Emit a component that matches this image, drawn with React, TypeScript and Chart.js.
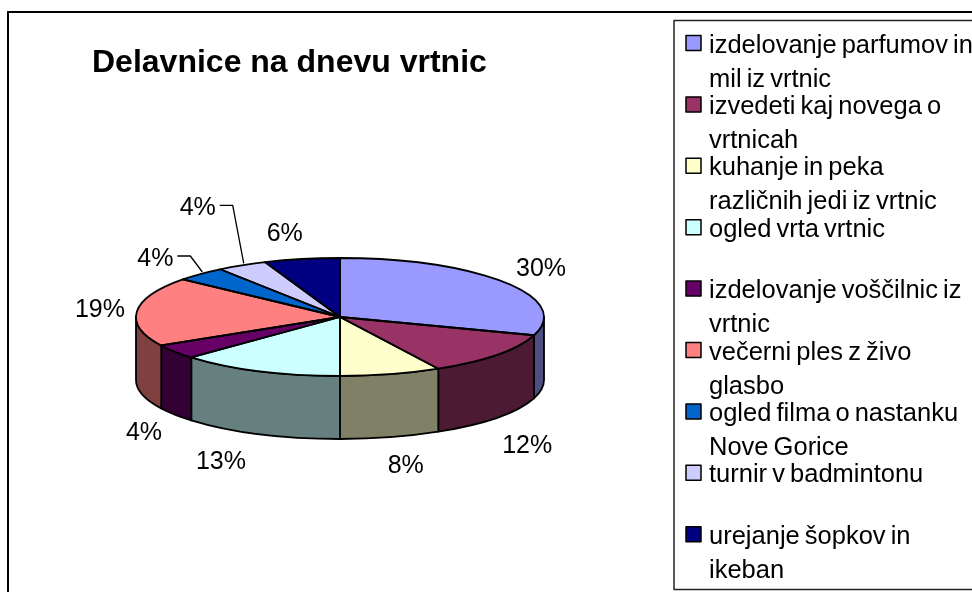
import React, { useEffect, useRef } from "react";
import { Chart, registerables } from "chart.js";

Chart.register(...registerables);

const titleText = "Delavnice na dnevu vrtnic";
const categories = [
  ["izdelovanje parfumov in", "mil iz vrtnic"],
  ["izvedeti kaj novega o", "vrtnicah"],
  ["kuhanje in peka", "različnih jedi iz vrtnic"],
  ["ogled vrta vrtnic"],
  ["izdelovanje voščilnic iz", "vrtnic"],
  ["večerni ples z živo", "glasbo"],
  ["ogled filma o nastanku", "Nove Gorice"],
  ["turnir v badmintonu"],
  ["urejanje šopkov in", "ikeban"],
];
const shares = [30, 12, 8, 13, 4, 19, 4, 4, 6];
const sliceColors = ["#9999FF", "#993366", "#FFFFCC", "#CCFFFF", "#660066", "#FF8080", "#0066CC", "#CCCCFF", "#000080"];
const wallColors = ["#4D4D80", "#4D1A33", "#808066", "#668080", "#330033", "#804040", "#003366", "#666680", "#000040"];
// label displacement from the slice's rim point
const labelOffsets = [[36, -13], [30, 29], [15, 29], [-38, 28], [-31, 18], [-37, -1], [-45, -15], [-44, -57], [-17, -25]];
const leaderLabels = [6, 7];

const SQUASH = 59 / 204;
const DEPTH = 63;
const FONT = '"Liberation Sans", Arial, sans-serif';

const pie3d = {
  id: "pie3d",
  beforeDatasetsDraw(chart: any) {
    const { ctx } = chart;
    const arcs = chart.getDatasetMeta(0).data;
    const { x: cx, y: cy, outerRadius: r } = arcs[0];
    const ry = r * SQUASH;
    ctx.save();
    // frame
    ctx.strokeStyle = "#000";
    ctx.lineWidth = 2;
    ctx.strokeRect(8, 12, 1000, 1000);
    // front walls
    ctx.lineWidth = 1.8;
    ctx.lineJoin = "round";
    arcs.forEach((a: any, i: number) => {
      const s = Math.max(a.startAngle, 0);
      const e = Math.min(a.endAngle, Math.PI);
      if (e <= s) return;
      ctx.beginPath();
      ctx.ellipse(cx, cy, r, ry, 0, s, e);
      ctx.lineTo(cx + r * Math.cos(e), cy + ry * Math.sin(e) + DEPTH);
      ctx.ellipse(cx, cy + DEPTH, r, ry, 0, e, s, true);
      ctx.closePath();
      ctx.fillStyle = wallColors[i];
      ctx.fill();
      ctx.stroke();
    });
    ctx.restore();
    // squash the library's own arcs into the pie's tilted plane
    ctx.save();
    ctx.translate(cx, cy);
    ctx.scale(1, SQUASH);
    ctx.translate(-cx, -cy);
  },
  afterDatasetsDraw(chart: any) {
    const { ctx } = chart;
    ctx.restore();
    const arcs = chart.getDatasetMeta(0).data;
    const { x: cx, y: cy, outerRadius: r } = arcs[0];
    const ry = r * SQUASH;
    ctx.save();
    ctx.strokeStyle = "#000";
    ctx.lineWidth = 1.8;
    ctx.lineJoin = "round";
    arcs.forEach((a: any) => {
      ctx.beginPath();
      ctx.moveTo(cx, cy);
      ctx.ellipse(cx, cy, r, ry, 0, a.startAngle, a.endAngle);
      ctx.closePath();
      ctx.stroke();
    });
    // percentage labels
    ctx.fillStyle = "#000";
    ctx.font = `25px ${FONT}`;
    ctx.textAlign = "center";
    ctx.textBaseline = "middle";
    arcs.forEach((a: any, i: number) => {
      const m = (a.startAngle + a.endAngle) / 2;
      const px = cx + r * Math.cos(m);
      const py = cy + ry * Math.sin(m) + (Math.sin(m) > 0 ? DEPTH : 0);
      const lx = px + labelOffsets[i][0];
      const ly = py + labelOffsets[i][1];
      ctx.fillText(`${shares[i]}%`, lx, ly);
      if (leaderLabels.includes(i)) {
        ctx.beginPath();
        ctx.lineWidth = 1.3;
        ctx.moveTo(lx + 22, ly - 3);
        ctx.lineTo(lx + 35, ly - 3);
        ctx.lineTo(px + 2, py - 2);
        ctx.stroke();
      }
    });
    // legend box
    const lx = 674, ly = 20.5, lb = 589.5;
    ctx.strokeStyle = "#222";
    ctx.lineWidth = 1.5;
    ctx.strokeRect(lx, ly, 1000, lb - ly);
    ctx.textAlign = "left";
    ctx.textBaseline = "alphabetic";
    ctx.font = `25.5px ${FONT}`;
    ctx.wordSpacing = "-2px";
    categories.forEach((lines, i) => {
      const base = 52.5 + i * 61.4;
      ctx.fillStyle = sliceColors[i];
      ctx.lineWidth = 1.5;
      ctx.strokeStyle = "#000";
      ctx.fillRect(686, base - 17, 15, 15);
      ctx.strokeRect(686, base - 17, 15, 15);
      ctx.fillStyle = "#000";
      lines.forEach((t, j) => ctx.fillText(t, 709, base + j * 34));
    });
    ctx.restore();
  },
};

export default function App() {
  const ref = useRef<HTMLCanvasElement>(null);
  useEffect(() => {
    document.body.style.margin = "0";
    const chart = new Chart(ref.current!, {
      type: "pie",
      data: {
        labels: categories.map((l) => l.join(" ")),
        datasets: [{ data: shares, backgroundColor: sliceColors, borderWidth: 0 }],
      },
      options: {
        responsive: false,
        animation: false,
        layout: { padding: { left: 92, right: 384, top: 44, bottom: 71 } },
        plugins: {
          legend: { display: false },
          tooltip: { enabled: false },
          title: {
            display: true,
            text: titleText,
            align: "start",
            color: "#000",
            font: { family: FONT, size: 32, weight: "bold", lineHeight: 1.2 },
            padding: { top: 0, bottom: 30.6 },
          },
        },
      },
      plugins: [pie3d],
    } as any);
    return () => chart.destroy();
  }, []);
  return <canvas ref={ref} width={972} height={592} style={{ display: "block", background: "#fff" }} />;
}
